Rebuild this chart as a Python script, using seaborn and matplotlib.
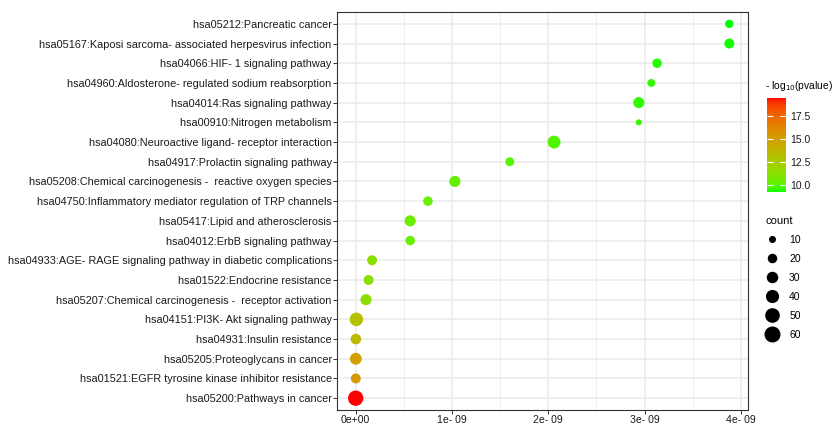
import numpy as np
import pandas as pd
import seaborn as sns
import matplotlib.pyplot as plt
from matplotlib.colors import ListedColormap, Normalize
from matplotlib.cm import ScalarMappable
from matplotlib.lines import Line2D

# datos (de arriba hacia abajo en el grafico)
terminos = [
    "hsa05212:Pancreatic cancer",
    "hsa05167:Kaposi sarcoma- associated herpesvirus infection",
    "hsa04066:HIF- 1 signaling pathway",
    "hsa04960:Aldosterone- regulated sodium reabsorption",
    "hsa04014:Ras signaling pathway",
    "hsa00910:Nitrogen metabolism",
    "hsa04080:Neuroactive ligand- receptor interaction",
    "hsa04917:Prolactin signaling pathway",
    "hsa05208:Chemical carcinogenesis -  reactive oxygen species",
    "hsa04750:Inflammatory mediator regulation of TRP channels",
    "hsa05417:Lipid and atherosclerosis",
    "hsa04012:ErbB signaling pathway",
    "hsa04933:AGE- RAGE signaling pathway in diabetic complications",
    "hsa01522:Endocrine resistance",
    "hsa05207:Chemical carcinogenesis -  receptor activation",
    "hsa04151:PI3K- Akt signaling pathway",
    "hsa04931:Insulin resistance",
    "hsa05205:Proteoglycans in cancer",
    "hsa01521:EGFR tyrosine kinase inhibitor resistance",
    "hsa05200:Pathways in cancer",
]
pvalor = [3.88e-9, 3.88e-9, 3.13e-9, 3.07e-9, 2.94e-9, 2.94e-9, 2.06e-9, 1.60e-9,
          1.03e-9, 0.75e-9, 0.566e-9, 0.566e-9, 0.17e-9, 0.134e-9, 0.107e-9,
          0.007e-9, 0.002e-9, 0.001e-9, 0.001e-9, 0.0]
log_p = [9.24, 9.3, 9.4, 9.45, 9.5, 9.5, 9.9, 9.95, 10.2, 10.3, 10.4, 10.4,
         11.2, 11.3, 11.4, 13.2, 13.6, 15.0, 15.3, 19.42]
conteo = [15, 22, 20, 13, 28, 7, 38, 17, 28, 20, 28, 20, 22, 22, 28, 42, 25, 32, 22, 55]

ticks_color = [10.0, 12.5, 15.0, 17.5]
ticks_conteo = [10, 20, 30, 40, 50, 60]


def srgb_a_lab(rgb):
    rgb = np.asarray(rgb, float)
    lin = np.where(rgb <= 0.04045, rgb / 12.92, ((rgb + 0.055) / 1.055) ** 2.4)
    m = np.array([[0.4124, 0.3576, 0.1805], [0.2126, 0.7152, 0.0722], [0.0193, 0.1192, 0.9505]])
    xyz = m @ lin / np.array([0.95047, 1.0, 1.08883])
    f = np.where(xyz > 0.008856, np.cbrt(xyz), 7.787 * xyz + 16 / 116)
    return np.array([116 * f[1] - 16, 500 * (f[0] - f[1]), 200 * (f[1] - f[2])])


def lab_a_srgb(lab):
    L, a, b = lab
    fy = (L + 16) / 116
    fx = fy + a / 500
    fz = fy - b / 200
    f = np.array([fx, fy, fz])
    xyz = np.where(f ** 3 > 0.008856, f ** 3, (f - 16 / 116) / 7.787) * np.array([0.95047, 1.0, 1.08883])
    m = np.array([[3.2406, -1.5372, -0.4986], [-0.9689, 1.8758, 0.0415], [0.0557, -0.2040, 1.0570]])
    lin = np.clip(m @ xyz, 0, 1)
    return np.clip(np.where(lin <= 0.0031308, 12.92 * lin, 1.055 * lin ** (1 / 2.4) - 0.055), 0, 1)


# gradiente verde -> rojo interpolado en Lab (como ggplot)
verde = srgb_a_lab([0, 1, 0])
rojo = srgb_a_lab([1, 0, 0])
cmap = ListedColormap([lab_a_srgb(verde + t * (rojo - verde)) for t in np.linspace(0, 1, 256)])

df = pd.DataFrame({"term": terminos, "pvalue": pvalor, "logp": log_p, "count": conteo})

# mapeo de tamanos (area proporcional)
norma_tam = (5, 60)
tam = (14.7, 132.7)


def area(c):
    return tam[0] + (c - norma_tam[0]) / (norma_tam[1] - norma_tam[0]) * (tam[1] - tam[0])


vmin, vmax = min(log_p), max(log_p)

plt.rcParams["font.family"] = ["Liberation Sans", "DejaVu Sans"]
fig = plt.figure(figsize=(8.35, 4.25), dpi=100)
ax = fig.add_axes([337 / 835, 1 - 410 / 425, (748 - 337) / 835, (410 - 12) / 425])

sns.scatterplot(data=df, x="pvalue", y="term", hue="logp", size="count",
                palette=cmap, hue_norm=(vmin, vmax), sizes=tam, size_norm=norma_tam,
                linewidth=0, legend=False, ax=ax, zorder=3)

rango = max(pvalor) - min(pvalor)
ax.set_xlim(min(pvalor) - 0.05 * rango, max(pvalor) + 0.05 * rango)
ax.set_ylim(len(terminos) - 0.4, -0.6)
ax.set_xticks([0, 1e-9, 2e-9, 3e-9, 4e-9])
ax.set_xticklabels(["0e+00", "1e- 09", "2e- 09", "3e- 09", "4e- 09"])
ax.set_xticks([0.5e-9, 1.5e-9, 2.5e-9, 3.5e-9], minor=True)
ax.set_xlabel("")
ax.set_ylabel("")

ax.grid(which="major", color="#EBEBEB", linewidth=1.1, zorder=0)
ax.grid(which="minor", axis="x", color="#EBEBEB", linewidth=0.6, zorder=0)
ax.set_axisbelow(True)
for s in ax.spines.values():
    s.set_color("#333333")
    s.set_linewidth(0.8)
ax.tick_params(which="major", length=3, width=0.7, color="#333333", labelsize=7.8,
               labelcolor="#1a1a1a")
ax.tick_params(axis="y", pad=0.8)
ax.tick_params(axis="x", pad=0.8, labelsize=7.6)
ax.tick_params(which="minor", length=0)

# leyenda de color
cax = fig.add_axes([767 / 835, 1 - 192 / 425, 19 / 835, 94 / 425])
cb = fig.colorbar(ScalarMappable(norm=Normalize(vmin, vmax), cmap=cmap), cax=cax)
cb.outline.set_visible(False)
cb.set_ticks(ticks_color)
cb.ax.set_yticklabels([f"{t:.1f}" for t in ticks_color])
cb.ax.tick_params(direction="in", length=4, width=0.8, color="white", left=True, right=True,
                  labelsize=7.5, labelcolor="#1a1a1a", pad=3)
fig.text(765 / 835, 1 - 86 / 425, "- log$_{10}$(pvalue)", fontsize=7.4, va="center", ha="left")

# leyenda de tamano
manejadores = [Line2D([], [], marker="o", ls="", color="black", markeredgewidth=0,
                      markersize=np.sqrt(area(c))) for c in ticks_conteo]
leg = fig.legend(manejadores, [str(c) for c in ticks_conteo], title="count",
                 loc="upper left", bbox_to_anchor=(761 / 835, 1 - 212 / 425),
                 frameon=False, fontsize=7.5, title_fontsize=8, labelspacing=0.86,
                 handletextpad=0.9, borderaxespad=0, handlelength=1.4)
leg._legend_box.align = "left"

fig.savefig("out.png", dpi=100)
